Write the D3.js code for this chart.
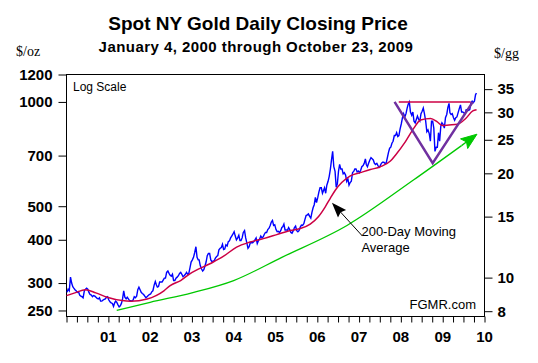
<!DOCTYPE html>
<html>
<head>
<meta charset="utf-8">
<script src="https://cdn.jsdelivr.net/npm/d3@7/dist/d3.min.js"></script>
<style>
  body { margin: 0; background: #fff; }
  text { font-family: "Liberation Sans", Arial, sans-serif; fill: #000; }
</style>
</head>
<body>
<div id="chart-container"></div>
<script>
// closing prices, three readings per month (about the 5th, 15th and 25th), Jan 2000 - Oct 2009
var closePrices = [
  // 2000
  282,288,285, 312,300,293, 290,287,285, 282,283,277, 275,274,272, 285,288,290, 288,282,278, 277,274,276, 275,273,271, 270,272,266, 266,268,269, 270,273,274,
  // 2001
  268,265,263, 262,257,263, 266,264,260, 256,258,262, 270,285,273, 270,273,270, 267,267,266, 268,274,272, 275,287,292, 287,282,280, 278,275,272, 274,276,278,
  // 2002
  279,283,285, 296,303,296, 292,293,302, 302,302,306, 310,310,322, 325,320,316, 314,318,305, 305,310,312, 315,320,322, 318,313,315, 318,322,318, 320,332,345,
  // 2003
  350,356,367, 382,356,350, 350,337,330, 325,328,336, 345,360,365, 365,350,346, 347,348,354, 358,360,374, 378,380,388, 375,376,387, 384,395,397, 405,410,415,
  // 2004
  422,410,400, 405,412,398, 398,405,420, 425,405,392, 378,382,392, 392,392,395, 400,405,390, 398,402,410, 405,408,415, 420,420,428, 432,440,450, 455,440,442,
  // 2005
  428,422,423, 420,425,434, 436,444,427, 427,426,434, 428,420,418, 425,434,438, 425,422,425, 435,441,440, 445,458,470, 472,475,468, 462,480,495, 505,530,512,
  // 2006
  530,550,565, 565,545,556, 565,545,575, 590,610,640, 680,720,650, 630,567,580, 630,660,640, 640,620,625, 615,590,600, 575,585,590, 625,630,640, 640,628,632,
  // 2007
  625,635,650, 655,665,685, 660,650,665, 680,690,685, 680,665,660, 665,655,648, 655,665,670, 670,665,665, 690,715,735, 740,760,770, 800,800,815, 795,800,835,
  // 2008
  865,900,925, 905,925,960, 985,1000,935, 915,935,880, 870,890,910, 890,880,925, 940,960,925, 880,820,830, 810,770,880, 880,840,720, 740,740,815, 770,850,870,
  // 2009
  860,840,900, 920,965,990, 930,920,925, 900,885,900, 905,930,955, 980,935,935, 930,925,950, 950,945,950, 995,1005,995, 1005,1050,1060
];
var readingDays = [5, 15, 25];

// 200-day moving average
var maYears  = [2000.0, 2000.2, 2000.45, 2000.7, 2000.97, 2001.33, 2001.53, 2001.93, 2002.33, 2002.48, 2002.73, 2002.95, 2003.43, 2003.75, 2004.07, 2004.39, 2004.71, 2005.03, 2005.31, 2005.59, 2005.83, 2006.03, 2006.19, 2006.31, 2006.43, 2006.59, 2006.79, 2007.03, 2007.27, 2007.51, 2007.75, 2007.87, 2008.11, 2008.31, 2008.47, 2008.71, 2008.87, 2008.99, 2009.15, 2009.35, 2009.55, 2009.72, 2009.81];
var maValues = [276, 281, 287, 281, 273, 267, 266, 270, 285, 295, 305, 319, 341, 358, 381, 394, 403, 414, 424, 431, 444, 467, 498, 527, 556, 586, 612, 625, 638, 650, 675, 702, 768, 840, 887, 896, 876, 855, 858, 862, 896, 942, 950];

// green trend line and its arrow tip
var trendYears  = [2001.2, 2002, 2003, 2004, 2005.15, 2006.71, 2008.3, 2009.45];
var trendValues = [250, 264, 281, 305, 356, 440, 595, 748];
var trendTip = [2009.82, 807];

// pattern lines drawn on 2008-09
var vYears  = [2007.85, 2008.76, 2009.72];
var vValues = [1000, 666, 1000];
var resistanceYears = [2007.95, 2009.67];
var resistanceValue = 1000;

// "200-Day Moving Average" pointer: tail then tip
var pointerYears  = [2007.08, 2006.35];
var pointerValues = [410, 512];

var leftTicks  = [250, 300, 400, 500, 700, 1000, 1200];
var rightTicks = [8, 10, 15, 20, 25, 30, 35];
var yearLabels = ["01", "02", "03", "04", "05", "06", "07", "08", "09", "10"];
var gramsPerOunce = 31.1035;

function yearToDate(t) {
  var yr = Math.floor(t);
  var a = new Date(yr, 0, 1), b = new Date(yr + 1, 0, 1);
  return new Date(+a + (t - yr) * (b - a));
}

function drawChart() {
  var W = 538, H = 363;
  var pLeft = 66.5, pRight = 484.5, pTop = 74.5, pBottom = 316.5;

  var svg = d3.select("#chart-container").append("svg")
      .attr("width", W).attr("height", H);

  var x = d3.scaleTime()
      .domain([new Date(2000, 0, 1), new Date(2010, 0, 1)])
      .range([pLeft, pRight]);
  var y = d3.scaleLog().domain([240.2, 1200]).range([pBottom, pTop]);
  var y2 = d3.scaleLog().domain([240.2 / gramsPerOunce, 1200 / gramsPerOunce]).range([pBottom, pTop]);

  // titles
  svg.append("text").attr("x", 258).attr("y", 30).attr("text-anchor", "middle")
      .style("font-size", "19px").style("font-weight", "bold")
      .text("Spot NY Gold Daily Closing Price");
  svg.append("text").attr("x", 256).attr("y", 52).attr("text-anchor", "middle")
      .style("font-size", "15px").style("font-weight", "bold").style("letter-spacing", "0.45px")
      .text("January 4, 2000 through October 23, 2009");
  svg.append("text").attr("x", 16).attr("y", 56)
      .style("font-family", "'Liberation Serif', serif").style("font-size", "14px")
      .text("$/oz");
  svg.append("text").attr("x", 494).attr("y", 58)
      .style("font-family", "'Liberation Serif', serif").style("font-size", "14px")
      .text("$/gg");

  // axes
  var leftAxis = svg.append("g")
      .attr("transform", "translate(" + pLeft + ",0)")
      .call(d3.axisLeft(y).tickValues(leftTicks).tickFormat(d3.format("d")).tickSize(8).tickPadding(6));
  var rightAxis = svg.append("g")
      .attr("transform", "translate(" + pRight + ",0)")
      .call(d3.axisRight(y2).tickValues(rightTicks).tickFormat(d3.format("d")).tickSize(8).tickPadding(5));
  var bottomAxis = svg.append("g")
      .attr("transform", "translate(0," + pBottom + ")")
      .call(d3.axisBottom(x).ticks(d3.timeMonth.every(3)).tickFormat("").tickSize(6));

  [leftAxis, rightAxis, bottomAxis].forEach(function(g) {
    g.select(".domain").remove();
    g.selectAll("line").attr("stroke", "#000");
    g.selectAll("text").style("font-size", "15px").style("font-weight", "bold")
        .style("font-family", "'Liberation Sans', Arial, sans-serif").attr("fill", "#000");
  });

  svg.append("g").selectAll("text")
      .data(yearLabels)
    .enter().append("text")
      .attr("x", function(d, i) { return x(new Date(2001 + i, 0, 1)); })
      .attr("y", 342)
      .attr("text-anchor", "middle")
      .style("font-size", "15px").style("font-weight", "bold")
      .text(function(d) { return d; });

  // plot frame
  svg.append("rect")
      .attr("x", pLeft).attr("y", pTop)
      .attr("width", pRight - pLeft).attr("height", pBottom - pTop)
      .attr("fill", "none").attr("stroke", "#000");

  var plot = svg.append("g");

  var line = d3.line()
      .x(function(d) { return x(d[0]); })
      .y(function(d) { return y(d[1]); });
  var smooth = d3.line()
      .x(function(d) { return x(d[0]); })
      .y(function(d) { return y(d[1]); })
      .curve(d3.curveMonotoneX);

  function arrowHead(px, py, a, len, half, notch) {
    var ca = Math.cos(a), sa = Math.sin(a);
    var p1 = [px - len * ca - half * sa, py - len * sa + half * ca];
    var p2 = [px - len * ca + half * sa, py - len * sa - half * ca];
    var p3 = [px - (len - notch) * ca, py - (len - notch) * sa];
    return [[px, py], p1, p3, p2];
  }

  // green trend
  var trendData = trendYears.map(function(t, i) { return [yearToDate(t), trendValues[i]]; });
  plot.append("path")
      .datum(trendData)
      .attr("d", smooth)
      .attr("fill", "none").attr("stroke", "#00c800").attr("stroke-width", 1.3);

  var tEnd = trendData[trendData.length - 1];
  var tipX = x(yearToDate(trendTip[0])), tipY = y(trendTip[1]);
  var bx = x(tEnd[0]), by = y(tEnd[1]);
  var ang = Math.atan2(tipY - by, tipX - bx);
  plot.append("line")
      .attr("x1", bx).attr("y1", by)
      .attr("x2", tipX - 12 * Math.cos(ang)).attr("y2", tipY - 12 * Math.sin(ang))
      .attr("stroke", "#00c800").attr("stroke-width", 1.3);
  plot.append("path")
      .attr("d", d3.line()(arrowHead(tipX, tipY, ang, 16, 6, 3)) + "Z")
      .attr("fill", "#00c800").attr("stroke", "#00c800").attr("stroke-width", 1);

  // daily price
  var priceData = closePrices.map(function(v, i) {
    var m = Math.floor(i / 3);
    var day = (i === closePrices.length - 1) ? 23 : readingDays[i % 3];
    return [new Date(2000, m, day), v];
  });
  plot.append("path")
      .datum(priceData)
      .attr("d", line)
      .attr("fill", "none").attr("stroke", "#0000ff").attr("stroke-width", 1.4);

  // moving average
  var maData = maYears.map(function(t, i) { return [yearToDate(t), maValues[i]]; });
  plot.append("path")
      .datum(maData)
      .attr("d", smooth)
      .attr("fill", "none").attr("stroke", "#cc0044").attr("stroke-width", 1.5);

  // resistance line
  plot.append("path")
      .datum(resistanceYears.map(function(t) { return [yearToDate(t), resistanceValue]; }))
      .attr("d", line)
      .attr("fill", "none").attr("stroke", "#cc0044").attr("stroke-width", 1.5);

  // V pattern
  plot.append("path")
      .datum(vYears.map(function(t, i) { return [yearToDate(t), vValues[i]]; }))
      .attr("d", line)
      .attr("fill", "none").attr("stroke", "#7030a0").attr("stroke-width", 2.5);

  // pointer to moving average
  var px0 = x(yearToDate(pointerYears[0])), py0 = y(pointerValues[0]);
  var px1 = x(yearToDate(pointerYears[1])), py1 = y(pointerValues[1]);
  var pa = Math.atan2(py1 - py0, px1 - px0);
  plot.append("line")
      .attr("x1", px0).attr("y1", py0)
      .attr("x2", px1 - 10 * Math.cos(pa)).attr("y2", py1 - 10 * Math.sin(pa))
      .attr("stroke", "#000").attr("stroke-width", 1);
  plot.append("path")
      .attr("d", d3.line()(arrowHead(px1, py1, pa, 15, 5.5, 2)) + "Z")
      .attr("fill", "#000");

  svg.append("text").attr("x", px0 - 1).attr("y", py0)
      .style("font-size", "13px").text("200-Day Moving");
  svg.append("text").attr("x", px0 - 1).attr("y", py0 + 16)
      .style("font-size", "13px").text("Average");

  svg.append("text").attr("x", 73).attr("y", 91)
      .style("font-size", "12px").text("Log Scale");
  svg.append("text").attr("x", 476).attr("y", 309).attr("text-anchor", "end")
      .style("font-size", "13px").text("FGMR.com");
}

drawChart();
</script>
</body>
</html>
